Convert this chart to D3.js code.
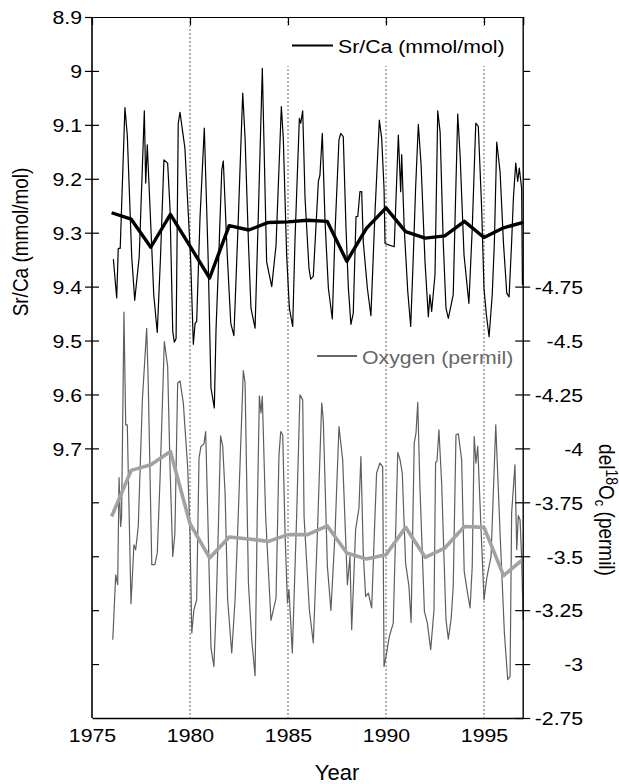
<!DOCTYPE html>
<html><head><meta charset="utf-8">
<script src="https://cdn.jsdelivr.net/npm/d3@7"></script>
<style>
html,body{margin:0;padding:0;background:#fff;}
svg{display:block;font-family:"Liberation Sans",Arial,Helvetica,sans-serif;}
</style></head>
<body><svg id="chart" width="619" height="784"></svg>
<script>
// ---- data ----
const srcaYears = [1976.09,1976.26,1976.34,1976.44,1976.68,1976.80,1977.03,1977.18,1977.41,1977.67,1977.74,1977.82,1978.05,1978.15,1978.33,1978.50,1978.67,1978.86,1978.98,1979.12,1979.20,1979.29,1979.40,1979.49,1979.61,1979.74,1980.03,1980.17,1980.26,1980.34,1980.51,1980.73,1980.93,1981.07,1981.24,1981.33,1981.44,1981.62,1981.70,1981.90,1982.08,1982.24,1982.46,1982.59,1982.69,1982.81,1982.98,1983.11,1983.32,1983.49,1983.69,1983.91,1984.17,1984.39,1984.66,1984.76,1984.93,1985.07,1985.24,1985.36,1985.58,1985.65,1985.75,1985.87,1986.07,1986.16,1986.29,1986.55,1986.63,1986.75,1986.89,1987.06,1987.26,1987.40,1987.60,1987.69,1987.82,1987.96,1988.08,1988.21,1988.33,1988.47,1988.56,1988.67,1988.76,1988.84,1989.05,1989.23,1989.44,1989.66,1989.78,1989.90,1989.95,1990.17,1990.42,1990.63,1990.75,1990.80,1990.93,1991.11,1991.26,1991.39,1991.51,1991.65,1991.79,1991.99,1992.16,1992.24,1992.33,1992.50,1992.64,1992.76,1992.92,1993.06,1993.18,1993.43,1993.52,1993.66,1993.78,1993.98,1994.23,1994.40,1994.58,1994.71,1994.88,1995.00,1995.12,1995.26,1995.42,1995.53,1995.65,1995.82,1995.99,1996.16,1996.28,1996.41,1996.50,1996.62,1996.72,1996.80,1996.92,1996.96];
const srcaValues = [9.349,9.421,9.329,9.329,9.068,9.119,9.347,9.425,9.344,9.074,9.208,9.137,9.329,9.415,9.485,9.341,9.165,9.171,9.255,9.483,9.503,9.496,9.097,9.077,9.109,9.143,9.347,9.507,9.468,9.465,9.273,9.106,9.354,9.588,9.625,9.477,9.372,9.184,9.167,9.341,9.468,9.491,9.279,9.143,9.041,9.125,9.317,9.440,9.477,9.261,8.995,9.354,9.400,9.323,9.066,9.125,9.341,9.440,9.474,9.310,9.088,9.097,9.074,9.236,9.366,9.386,9.381,9.205,9.193,9.116,9.279,9.403,9.460,9.298,9.128,9.116,9.122,9.292,9.403,9.470,9.449,9.270,9.270,9.224,9.224,9.317,9.403,9.454,9.261,9.091,9.125,9.218,9.320,9.323,9.326,9.119,9.224,9.155,9.292,9.409,9.474,9.347,9.218,9.099,9.174,9.354,9.456,9.415,9.446,9.378,9.074,9.113,9.317,9.440,9.459,9.415,9.279,9.080,9.156,9.341,9.431,9.292,9.097,9.103,9.255,9.403,9.452,9.493,9.415,9.317,9.132,9.187,9.317,9.412,9.419,9.317,9.236,9.171,9.205,9.180,9.218,9.397];

const oxyYears = [1976.06,1976.21,1976.31,1976.38,1976.46,1976.51,1976.63,1976.72,1976.80,1976.99,1977.14,1977.23,1977.36,1977.57,1977.79,1977.87,1978.05,1978.21,1978.33,1978.47,1978.69,1978.86,1978.98,1979.12,1979.23,1979.37,1979.49,1979.66,1979.74,1979.88,1980.00,1980.09,1980.20,1980.34,1980.46,1980.56,1980.71,1980.80,1980.93,1981.07,1981.22,1981.33,1981.44,1981.56,1981.67,1981.79,1981.92,1982.13,1982.30,1982.46,1982.72,1982.81,1982.98,1983.15,1983.32,1983.43,1983.54,1983.62,1983.69,1983.86,1984.13,1984.39,1984.54,1984.63,1984.73,1984.85,1984.97,1985.05,1985.22,1985.44,1985.61,1985.75,1985.82,1986.09,1986.29,1986.50,1986.72,1986.80,1987.01,1987.19,1987.40,1987.60,1987.79,1988.03,1988.16,1988.25,1988.45,1988.62,1988.72,1988.84,1988.96,1989.10,1989.27,1989.40,1989.52,1989.69,1989.83,1989.90,1990.03,1990.17,1990.37,1990.60,1990.71,1990.83,1991.00,1991.17,1991.28,1991.44,1991.53,1991.62,1991.73,1991.96,1992.11,1992.28,1992.45,1992.53,1992.60,1992.70,1992.84,1993.06,1993.18,1993.32,1993.43,1993.57,1993.69,1993.86,1993.99,1994.16,1994.29,1994.40,1994.50,1994.59,1994.68,1994.85,1995.00,1995.14,1995.36,1995.60,1995.82,1996.04,1996.21,1996.33,1996.41,1996.58,1996.67,1996.75,1996.84,1996.92,1997.00];
const oxyValues = [-3.113,-3.414,-3.368,-3.865,-3.638,-3.684,-4.632,-4.109,-4.109,-3.280,-3.553,-3.530,-3.638,-4.225,-4.557,-4.303,-3.461,-3.461,-3.515,-3.855,-4.495,-4.380,-3.916,-3.499,-3.607,-4.303,-4.313,-4.210,-4.101,-3.916,-3.607,-3.144,-3.252,-3.298,-3.955,-4.009,-4.021,-4.078,-3.607,-3.075,-2.989,-3.252,-3.607,-4.058,-4.009,-3.793,-3.298,-3.051,-3.298,-3.684,-4.361,-4.303,-3.376,-3.113,-2.946,-3.684,-4.244,-4.164,-4.241,-3.684,-3.203,-3.306,-3.970,-4.078,-4.063,-3.607,-3.283,-3.345,-3.051,-3.684,-4.248,-4.225,-3.684,-3.252,-3.098,-3.607,-4.210,-4.133,-3.453,-3.249,-3.607,-4.101,-3.947,-3.368,-3.499,-3.159,-3.623,-3.723,-3.962,-3.515,-3.314,-3.329,-3.260,-3.592,-3.886,-3.932,-3.916,-2.989,-3.051,-3.128,-3.190,-3.981,-3.950,-3.886,-3.468,-3.360,-3.193,-4.024,-4.071,-4.213,-3.824,-3.244,-3.190,-3.067,-3.252,-3.935,-3.939,-4.086,-3.839,-3.206,-3.116,-3.206,-3.360,-4.063,-4.068,-3.947,-3.430,-3.329,-3.260,-3.453,-4.055,-3.932,-4.009,-3.623,-3.298,-3.399,-3.499,-4.109,-3.607,-3.144,-2.928,-2.943,-3.700,-3.924,-3.530,-3.688,-3.669,-3.492,-3.206];

const annualYears = [1976,1977,1978,1979,1980,1981,1982,1983,1984,1985,1986,1987,1988,1989,1990,1991,1992,1993,1994,1995,1996,1997];
const srcaAnnual = [9.263,9.275,9.327,9.266,9.325,9.384,9.287,9.295,9.281,9.280,9.277,9.279,9.353,9.292,9.254,9.298,9.310,9.306,9.279,9.309,9.291,9.281];
const oxyAnnual = [-3.684,-3.898,-3.924,-3.986,-3.651,-3.492,-3.589,-3.580,-3.569,-3.600,-3.600,-3.641,-3.515,-3.487,-3.507,-3.634,-3.495,-3.538,-3.638,-3.634,-3.410,-3.487];

const xTickValues = [1975,1980,1985,1990,1995];
const gridYears = [1980,1985,1990,1995];
const leftTickValues = [8.9,9.0,9.1,9.2,9.3,9.4,9.5,9.6,9.7,9.8,9.9,10.0,10.1];
const leftTickLabels = ["8.9","9","9.1","9.2","9.3","9.4","9.5","9.6","9.7","","","",""];
const rightTickValues = [-6,-5.75,-5.5,-5.25,-5,-4.75,-4.5,-4.25,-4,-3.75,-3.5,-3.25,-3,-2.75];
const rightTickLabels = ["","","","","","-4.75","-4.5","-4.25","-4","-3.75","-3.5","-3.25","-3","-2.75"];

// ---- layout ----
const L = 92, R = 523.2, T = 17, B = 718;
const SX = 1.12; // horizontal stretch of the reference's text
const svg = d3.select("#chart");

const x = d3.scaleLinear().domain([1975, 1997]).range([L, R]);
const yL = d3.scaleLinear().domain([8.9, 10.2]).range([T, B]);
const yR = d3.scaleLinear().domain([-6, -2.75]).range([T, B]);

function stretchTexts(sel){
  sel.each(function(){
    const t = d3.select(this);
    const xx = +t.attr("x") || 0;
    t.attr("x", xx / SX).attr("transform", `scale(${SX},1)`);
  });
}

// gridlines
svg.append("g").selectAll("line").data(gridYears).join("line")
  .attr("x1", d => x(d)).attr("x2", d => x(d))
  .attr("y1", T).attr("y2", B)
  .attr("stroke", "#666").attr("stroke-width", 1).attr("stroke-dasharray", "2,2");

// Sr/Ca legend background
svg.append("rect").attr("x", 283).attr("y", 26).attr("width", 232).attr("height", 40).attr("fill", "#fff");

// series lines
const srcaLine = d3.line().x(d => x(d[0])).y(d => yL(d[1]));
const oxyLine = d3.line().x(d => x(d[0])).y(d => yR(d[1]));

svg.append("path").datum(oxyYears.map((d,i) => [d, oxyValues[i]]))
  .attr("d", oxyLine).attr("fill", "none").attr("stroke", "#5e5e5e").attr("stroke-width", 1.2).attr("stroke-linejoin", "round");
svg.append("path").datum(srcaYears.map((d,i) => [d, srcaValues[i]]))
  .attr("d", srcaLine).attr("fill", "none").attr("stroke", "#000").attr("stroke-width", 1.2).attr("stroke-linejoin", "round");
svg.append("path").datum(annualYears.map((d,i) => [d, oxyAnnual[i]]))
  .attr("d", oxyLine).attr("fill", "none").attr("stroke", "#a2a2a2").attr("stroke-width", 3.6).attr("stroke-linejoin", "round");
svg.append("path").datum(annualYears.map((d,i) => [d, srcaAnnual[i]]))
  .attr("d", srcaLine).attr("fill", "none").attr("stroke", "#000").attr("stroke-width", 3.4).attr("stroke-linejoin", "round");

// frame top line + top ticks
const topAxis = svg.append("g").attr("transform", `translate(0,${T})`)
  .call(d3.axisTop(x).tickValues(gridYears).tickSize(-8).tickFormat(""));
topAxis.select(".domain").attr("stroke", "#000").attr("stroke-width", 1.2);
topAxis.selectAll(".tick line").attr("stroke", "#000").attr("stroke-width", 1.2);

// bottom axis
const bottomAxis = svg.append("g").attr("transform", `translate(0,${B})`)
  .call(d3.axisBottom(x).tickValues(xTickValues).tickSize(0).tickFormat(d3.format("d")));
bottomAxis.select(".domain").attr("stroke", "#000").attr("stroke-width", 1.4);
bottomAxis.selectAll(".tick text").attr("font-size", 19).attr("fill", "#000")
  .attr("y", 24.5).attr("dy", 0).attr("font-family", "Liberation Sans, Arial, sans-serif");
stretchTexts(bottomAxis.selectAll(".tick text"));

// left axis
const leftAxis = svg.append("g").attr("transform", `translate(${L},0)`)
  .call(d3.axisLeft(yL).tickValues(leftTickValues).tickSize(7)
    .tickFormat((d,i) => leftTickLabels[i]));
leftAxis.select(".domain").attr("stroke", "#000").attr("stroke-width", 1.6).attr("d", `M0,${T}V${B}`);
leftAxis.selectAll(".tick line").attr("stroke", "#000").attr("stroke-width", 1.2)
  .attr("x1", (d,i) => leftTickLabels[i] ? -7 : 0).attr("x2", (d,i) => d === 8.9 ? 0 : 7);
leftAxis.selectAll(".tick text").attr("font-size", 19).attr("fill", "#000")
  .attr("x", -10).attr("dy", "0.36em").attr("font-family", "Liberation Sans, Arial, sans-serif");
stretchTexts(leftAxis.selectAll(".tick text"));

// right axis
const rightAxis = svg.append("g").attr("transform", `translate(${R},0)`)
  .call(d3.axisRight(yR).tickValues(rightTickValues).tickSize(7)
    .tickFormat((d,i) => rightTickLabels[i]));
rightAxis.select(".domain").attr("stroke", "#000").attr("stroke-width", 1.4).attr("d", `M0,${T}V${B}`);
rightAxis.selectAll(".tick line").attr("stroke", "#000").attr("stroke-width", 1.2)
  .attr("x1", (d,i) => rightTickLabels[i] ? -8 : 0).attr("x2", (d,i) => d === -6 ? 0 : 7);
rightAxis.selectAll(".tick text").attr("font-size", 19).attr("fill", "#000")
  .attr("x", 60).attr("text-anchor", "end").attr("dy", "0.36em").attr("font-family", "Liberation Sans, Arial, sans-serif");
stretchTexts(rightAxis.selectAll(".tick text"));

// legends
svg.append("line").attr("x1", 292).attr("x2", 333).attr("y1", 45.5).attr("y2", 45.5)
  .attr("stroke", "#000").attr("stroke-width", 2);
svg.append("g").attr("transform", `translate(338,53) scale(${SX},1)`)
  .append("text").attr("font-size", 19).attr("fill", "#000").text("Sr/Ca (mmol/mol)");

svg.append("line").attr("x1", 317).attr("x2", 357).attr("y1", 356).attr("y2", 356)
  .attr("stroke", "#666").attr("stroke-width", 2);
svg.append("g").attr("transform", `translate(362,363.5) scale(${SX},1)`)
  .append("text").attr("font-size", 19).attr("fill", "#666").text("Oxygen (permil)");

// axis titles
svg.append("text").attr("transform", `translate(28,242) scale(${SX},1) rotate(-90)`)
  .attr("text-anchor", "middle").attr("font-size", 19).attr("fill", "#000").text("Sr/Ca (mmol/mol)");

const rt = svg.append("text").attr("transform", `translate(599,510) scale(${SX},1) rotate(90)`)
  .attr("text-anchor", "middle").attr("font-size", 19).attr("fill", "#000");
rt.append("tspan").text("del");
rt.append("tspan").attr("font-size", 14).attr("baseline-shift", "45%").text("18");
rt.append("tspan").text("O");
rt.append("tspan").attr("font-size", 13).attr("baseline-shift", "-30%").text("c");
rt.append("tspan").text(" (permil)");

svg.append("text").attr("x", 337).attr("y", 780).attr("text-anchor", "middle")
  .attr("font-size", 22).attr("fill", "#000").text("Year");
</script>
</body></html>
